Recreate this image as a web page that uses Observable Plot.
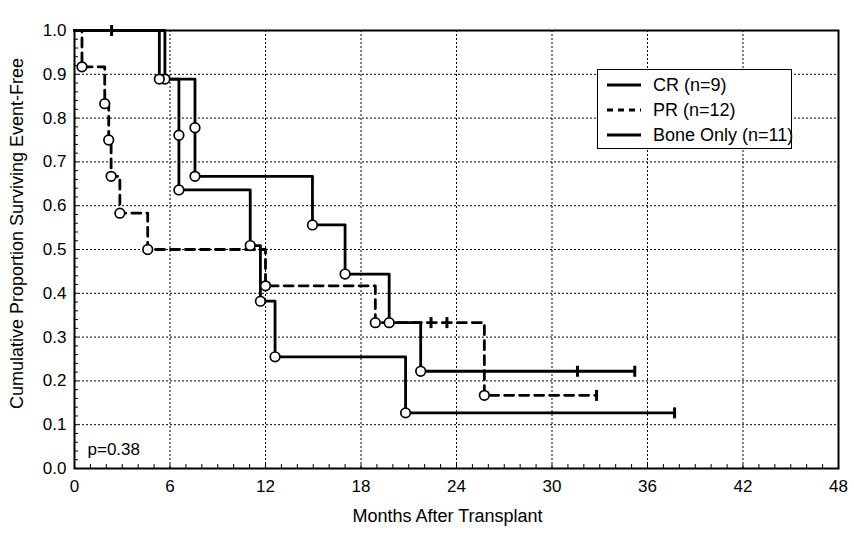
<!DOCTYPE html>
<html>
<head>
<meta charset="utf-8">
<script src="https://cdn.jsdelivr.net/npm/d3@7"></script>
<script src="https://cdn.jsdelivr.net/npm/@observablehq/plot@0.6"></script>
<style>
  body { margin: 0; background: #fff; }
  #wrap { position: relative; width: 854px; height: 533px; font-family: "Liberation Sans", Arial, sans-serif; }
  #legend { position: absolute; left: 597px; top: 69px; width: 195px; height: 80px; border: 1.5px solid #000; background: #fff; box-sizing: border-box; }
  .row { position: absolute; left: 9px; height: 22px; display: flex; align-items: center; font-size: 18px; color: #000; white-space: nowrap; }
  .row svg { width: 34px; height: 10px; margin-right: 12px; }
</style>
</head>
<body>
<div id="wrap"></div>
<script>
// ---- data ----
const seriesNames = ["CR (n=9)", "PR (n=12)", "Bone Only (n=11)"];

const crEventMonths   = [0, 5.68, 7.57, 7.57, 14.95, 17.0, 19.77, 21.75];
const crSurvival      = [1, 0.889, 0.778, 0.667, 0.556, 0.444, 0.333, 0.222];
const crCensorMonths  = [31.6, 35.2];
const crCensorSurv    = [0.222, 0.222];

const prEventMonths   = [0, 0.47, 1.9, 2.15, 2.3, 2.85, 4.6, 12.0, 18.9, 25.75];
const prSurvival      = [1, 0.917, 0.833, 0.75, 0.667, 0.583, 0.5, 0.417, 0.333, 0.167];
const prCensorMonths  = [22.4, 23.4, 32.8];
const prCensorSurv    = [0.333, 0.333, 0.167];

const boneEventMonths = [0, 5.33, 6.56, 6.56, 11.04, 11.68, 12.6, 20.8];
const boneSurvival    = [1, 0.889, 0.761, 0.636, 0.509, 0.382, 0.255, 0.127];
const boneCensorMonths= [2.33, 37.7];
const boneCensorSurv  = [1, 0.127];

const xTickValues = [0, 6, 12, 18, 24, 30, 36, 42, 48];
const yTickValues = [0, 0.1, 0.2, 0.3, 0.4, 0.5, 0.6, 0.7, 0.8, 0.9, 1.0];
const pValueText = "p=0.38";
const xLabel = "Months After Transplant";
const yLabel = "Cumulative Proportion Surviving Event-Free";

// ---- build tables ----
function table(name, months, surv) { return months.map((t, i) => ({series: name, t, s: surv[i]})); }
function stepLine(name, months, surv, cMonths, cSurv) {
  const pts = table(name, months, surv);
  const lastEvent = months[months.length - 1];
  const lastCensor = d3.max(cMonths);
  if (lastCensor > lastEvent) pts.push({series: name, t: lastCensor, s: surv[surv.length - 1]});
  return pts;
}
const crLine = stepLine(seriesNames[0], crEventMonths, crSurvival, crCensorMonths, crCensorSurv);
const prLine = stepLine(seriesNames[1], prEventMonths, prSurvival, prCensorMonths, prCensorSurv);
const boneLine = stepLine(seriesNames[2], boneEventMonths, boneSurvival, boneCensorMonths, boneCensorSurv);

const eventDots = [
  ...table(seriesNames[0], crEventMonths, crSurvival).slice(1),
  ...table(seriesNames[1], prEventMonths, prSurvival).slice(1),
  ...table(seriesNames[2], boneEventMonths, boneSurvival).slice(1)
];
const censorMarks = [
  ...table(seriesNames[0], crCensorMonths, crCensorSurv),
  ...table(seriesNames[1], prCensorMonths, prCensorSurv),
  ...table(seriesNames[2], boneCensorMonths, boneCensorSurv)
];

const censorSymbol = {
  draw(ctx, size) { const r = Math.sqrt(size / Math.PI); ctx.moveTo(0, -r); ctx.lineTo(0, r); }
};

const font = '"Liberation Sans", Arial, sans-serif';
const gridStyle = {stroke: "black", strokeOpacity: 1, strokeWidth: 1, strokeDasharray: "2,2"};

const chart = Plot.plot({
  width: 854,
  height: 533,
  marginLeft: 74,
  marginRight: 16,
  marginTop: 30,
  marginBottom: 65,
  style: {fontFamily: font, fontSize: "17px", background: "white", color: "black", overflow: "visible"},
  x: {domain: [0, 48]},
  y: {domain: [0, 1]},
  marks: [
    Plot.gridX(xTickValues.slice(1, -1), gridStyle),
    Plot.gridY(yTickValues.slice(1, -1), gridStyle),
    Plot.axisX(xTickValues, {tickSize: 0, tickPadding: 11, label: null, fontSize: 17}),
    Plot.axisY(yTickValues, {tickSize: 0, tickPadding: 8, tickFormat: d3.format(".1f"), label: null, fontSize: 17}),
    Plot.axisX(d3.range(0, 48.001, 1), {tickSize: -4, tickFormat: () => "", label: null, strokeWidth: 1}),
    Plot.axisY(d3.range(0, 1.0001, 0.02), {tickSize: -4, tickFormat: () => "", label: null, strokeWidth: 1}),
    Plot.line(prLine, {x: "t", y: "s", curve: "step-after", stroke: "black", strokeWidth: 2.8, strokeDasharray: "9,6"}),
    Plot.line(boneLine, {x: "t", y: "s", curve: "step-after", stroke: "black", strokeWidth: 2.8}),
    Plot.line(crLine, {x: "t", y: "s", curve: "step-after", stroke: "black", strokeWidth: 2.8}),
    Plot.dot(censorMarks, {x: "t", y: "s", symbol: censorSymbol, r: 5.5, stroke: "black", strokeWidth: 3, fill: "none"}),
    Plot.dot(eventDots, {x: "t", y: "s", r: 4.8, fill: "white", stroke: "black", strokeWidth: 1.7}),
    Plot.frame({stroke: "black", strokeWidth: 2}),
    Plot.text([pValueText], {frameAnchor: "bottom-left", dx: 13, dy: -14, textAnchor: "start", fontSize: 17, fill: "black"}),
    Plot.text([xLabel], {frameAnchor: "bottom", textAnchor: "middle", dy: 53, dx: -9, fontSize: 18, fill: "black"}),
    Plot.text([yLabel], {frameAnchor: "left", textAnchor: "middle", rotate: -90, dx: -57, dy: -16, fontSize: 18, fill: "black"})
  ]
});

const wrap = document.getElementById("wrap");
wrap.appendChild(chart);

// legend
const legend = document.createElement("div");
legend.id = "legend";
const dashes = ["", "6,5", ""];
seriesNames.forEach((name, i) => {
  const row = document.createElement("div");
  row.className = "row";
  row.style.top = (4 + i * 25) + "px";
  row.innerHTML = `<svg viewBox="0 0 34 10"><line x1="0" y1="5" x2="34" y2="5" stroke="black" stroke-width="3" ${dashes[i] ? `stroke-dasharray="${dashes[i]}"` : ""}/></svg><span>${name}</span>`;
  legend.appendChild(row);
});
wrap.appendChild(legend);
</script>
</body>
</html>
